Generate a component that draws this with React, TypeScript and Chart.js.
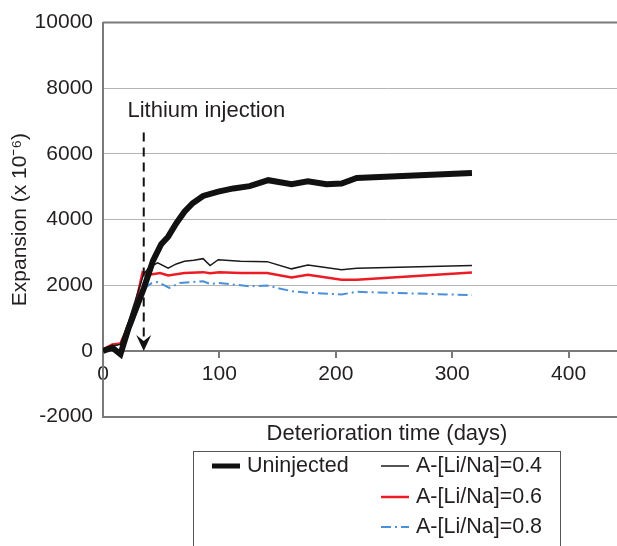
import React, { useEffect, useRef } from "react";
import { Chart, registerables } from "chart.js";

Chart.register(...registerables);

// ---- data ----
const UNINJ_DAYS = [0, 8, 15, 22, 35, 43, 50, 56, 63, 70, 77, 86, 99, 112, 126, 142, 162, 176, 192, 205, 218, 317];
const UNINJ_VALS = [0, 100, -100, 700, 1900, 2750, 3250, 3480, 3890, 4240, 4500, 4720, 4850, 4950, 5020, 5200, 5080, 5170, 5080, 5100, 5270, 5420];

const LI04_DAYS = [0, 8, 15, 22, 35, 40, 47, 56, 63, 70, 78, 86, 92, 99, 118, 141, 162, 176, 205, 218, 317];
const LI04_VALS = [0, 150, 200, 900, 2350, 2550, 2680, 2520, 2650, 2730, 2760, 2810, 2600, 2780, 2730, 2720, 2500, 2620, 2470, 2520, 2600];

const LI06_DAYS = [0, 8, 15, 26, 34, 40, 49, 56, 70, 86, 92, 100, 118, 141, 162, 176, 205, 218, 317];
const LI06_VALS = [50, 200, 230, 1100, 2400, 2320, 2370, 2300, 2370, 2400, 2370, 2400, 2370, 2370, 2240, 2320, 2170, 2170, 2390];

const LI08_DAYS = [0, 8, 15, 19, 26, 36, 42, 47, 57, 66, 86, 92, 100, 126, 141, 162, 176, 205, 218, 317];
const LI08_VALS = [0, 150, 200, 300, 910, 1920, 2070, 2100, 1920, 2070, 2120, 2040, 2070, 1970, 1990, 1820, 1770, 1720, 1800, 1700];

const SERIES_NAMES = ["Uninjected", "A-[Li/Na]=0.4", "A-[Li/Na]=0.6", "A-[Li/Na]=0.8"];

const X_MIN = 0;
const X_MAX = 488;
const Y_MIN = -2000;
const Y_MAX = 10000;
const Y_STEP = 2000;
const X_STEP = 100;
const X_TICK_LAST = 400;

const ANNOT_TEXT = "Lithium injection";
const ARROW_DAY = 35;
const ARROW_TOP = 6650;
const ARROW_TIP = 0;
const LABEL_DAY = 21;
const LABEL_VALUE = 7300;

const X_TITLE = "Deterioration time (days)";
const Y_TITLE = "Expansion (x 10\u207B\u2076)";

const FONT = "'Liberation Sans', Arial, Helvetica, sans-serif";
const TEXT_COLOR = "#231f20";
const AXIS_COLOR = "#7a7a7a";
const GRID_COLOR = "#b4b4b4";

const VIEW_W = 617;
const CANVAS_W = 671;
const CANVAS_H = 546;

function toPts(days: number[], vals: number[]) {
  return days.map((d, i) => ({ x: d, y: vals[i] }));
}

const frameAndAnnot = {
  id: "frameAndAnnot",
  afterDatasetsDraw(chart: any) {
    const { ctx, chartArea, scales } = chart;
    const xs = scales.x;
    const ys = scales.y;
    ctx.save();
    // top frame line
    ctx.strokeStyle = AXIS_COLOR;
    ctx.lineWidth = 2;
    ctx.beginPath();
    ctx.moveTo(chartArea.left, chartArea.top);
    ctx.lineTo(chartArea.right, chartArea.top);
    ctx.stroke();

    // arrow
    const ax = xs.getPixelForValue(ARROW_DAY);
    const yTop = ys.getPixelForValue(ARROW_TOP);
    const yTip = ys.getPixelForValue(ARROW_TIP);
    ctx.strokeStyle = "#111";
    ctx.lineWidth = 2;
    ctx.setLineDash([9, 6]);
    ctx.beginPath();
    ctx.moveTo(ax, yTop);
    ctx.lineTo(ax, yTip - 10);
    ctx.stroke();
    ctx.setLineDash([]);
    ctx.fillStyle = "#111";
    ctx.beginPath();
    ctx.moveTo(ax, yTip);
    ctx.lineTo(ax - 7.5, yTip - 16);
    ctx.lineTo(ax, yTip - 10);
    ctx.lineTo(ax + 7.5, yTip - 16);
    ctx.closePath();
    ctx.fill();

    // annotation text
    ctx.font = `22px ${FONT}`;
    ctx.fillStyle = TEXT_COLOR;
    ctx.textAlign = "left";
    ctx.textBaseline = "middle";
    ctx.fillText(ANNOT_TEXT, xs.getPixelForValue(LABEL_DAY), ys.getPixelForValue(LABEL_VALUE));
    ctx.restore();
  },
  afterDraw(chart: any) {
    const { ctx } = chart;
    const ds = chart.data.datasets;
    ctx.save();
    // legend box
    ctx.strokeStyle = "#555";
    ctx.lineWidth = 1;
    ctx.strokeRect(193.5, 451.5, 367, 120);
    const slots = [
      { x: 212, y: 466 },
      { x: 381, y: 466 },
      { x: 381, y: 497 },
      { x: 381, y: 527 },
    ];
    ds.forEach((d: any, i: number) => {
      const s = slots[i];
      ctx.strokeStyle = d.borderColor;
      ctx.lineWidth = Math.min(d.borderWidth, 5);
      ctx.setLineDash(d.borderDash || []);
      ctx.beginPath();
      ctx.moveTo(s.x, s.y);
      ctx.lineTo(s.x + 28, s.y);
      ctx.stroke();
      ctx.setLineDash([]);
      ctx.font = `21.5px ${FONT}`;
      ctx.fillStyle = TEXT_COLOR;
      ctx.textAlign = "left";
      ctx.textBaseline = "middle";
      ctx.fillText(d.label, s.x + 35, s.y);
    });
    ctx.restore();
  },
};

export default function App() {
  const ref = useRef<HTMLCanvasElement | null>(null);
  useEffect(() => {
    if (!ref.current) return;
    const chart = new Chart(ref.current, {
      type: "line",
      data: {
        datasets: [
          {
            label: SERIES_NAMES[0],
            data: toPts(UNINJ_DAYS, UNINJ_VALS),
            borderColor: "#111111",
            borderWidth: 6,
            pointRadius: 0,
            tension: 0,
          },
          {
            label: SERIES_NAMES[1],
            data: toPts(LI04_DAYS, LI04_VALS),
            borderColor: "#1a1a1a",
            borderWidth: 1.5,
            pointRadius: 0,
            tension: 0,
          },
          {
            label: SERIES_NAMES[2],
            data: toPts(LI06_DAYS, LI06_VALS),
            borderColor: "#ec1c24",
            borderWidth: 2.5,
            pointRadius: 0,
            tension: 0,
          },
          {
            label: SERIES_NAMES[3],
            data: toPts(LI08_DAYS, LI08_VALS),
            borderColor: "#4a90d9",
            borderWidth: 2,
            borderDash: [10, 4, 2, 4],
            pointRadius: 0,
            tension: 0,
          },
        ] as any,
      },
      options: {
        responsive: false,
        animation: false,
        layout: { padding: { top: 20, right: 0, bottom: 99, left: 0 } },
        plugins: { legend: { display: false }, tooltip: { enabled: false } },
        scales: {
          x: {
            type: "linear",
            position: { y: 0 } as any,
            min: X_MIN,
            max: X_MAX,
            afterBuildTicks(scale: any) {
              scale.ticks = scale.ticks.filter((t: any) => t.value <= X_TICK_LAST);
            },
            ticks: {
              stepSize: X_STEP,
              includeBounds: false,
              color: TEXT_COLOR,
              font: { size: 21, family: FONT },
              padding: 5,
              maxRotation: 0,
              callback: (v: any) => String(v),
            },
            grid: { drawOnChartArea: false, drawTicks: true, tickLength: 6, color: AXIS_COLOR, lineWidth: 2 },
            border: { color: AXIS_COLOR, width: 2 },
          },
          xb: {
            type: "linear",
            position: "bottom",
            min: X_MIN,
            max: X_MAX,
            ticks: { display: false },
            grid: { drawOnChartArea: false, drawTicks: false },
            border: { color: AXIS_COLOR, width: 2 },
            title: {
              display: true,
              text: X_TITLE,
              color: TEXT_COLOR,
              font: { size: 22, family: FONT },
              padding: { top: 4, bottom: 0 },
            },
          },
          y: {
            type: "linear",
            min: Y_MIN,
            max: Y_MAX,
            ticks: {
              stepSize: Y_STEP,
              color: TEXT_COLOR,
              font: { size: 21, family: FONT },
              padding: 10,
              callback: (v: any) => String(v),
            },
            grid: { color: GRID_COLOR, lineWidth: 1, drawTicks: false },
            border: { color: AXIS_COLOR, width: 2 },
            title: {
              display: true,
              text: Y_TITLE,
              color: TEXT_COLOR,
              font: { size: 21, family: FONT },
              padding: { top: 8, bottom: 4 },
            },
            afterFit(scale: any) {
              scale.width = 103;
            },
          },
        },
      } as any,
      plugins: [frameAndAnnot],
    });
    return () => chart.destroy();
  }, []);
  return (
    <div
      style={{
        position: "absolute",
        left: 0,
        top: 0,
        width: VIEW_W,
        height: CANVAS_H,
        overflow: "hidden",
        background: "#fff",
      }}
    >
      <canvas ref={ref} width={CANVAS_W} height={CANVAS_H} style={{ display: "block" }} />
    </div>
  );
}
